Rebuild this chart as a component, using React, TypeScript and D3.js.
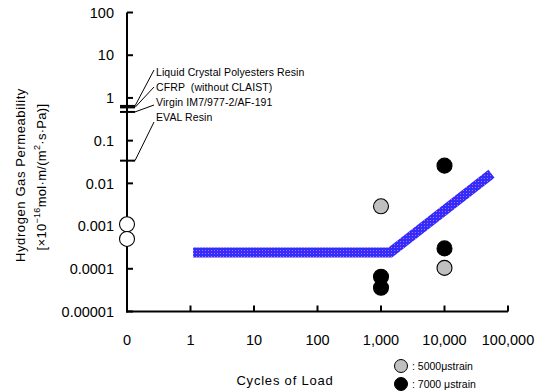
import { useEffect, useRef } from 'react';
import * as d3 from 'd3';

// reference materials on the y axis (cycles = 0)
const materialNames = [
  'Liquid Crystal Polyesters Resin',
  'CFRP  (without CLAIST)',
  'Virgin IM7/977-2/AF-191',
  'EVAL Resin',
];
const materialValues = [0.65, 0.6, 0.47, 0.034];

const baselineCycles = [0, 0];
const baselineValues = [0.0011, 0.0005];

const strain5000Cycles = [1000, 10000];
const strain5000Values = [0.0029, 0.000105];

const strain7000Cycles = [1000, 1000, 10000, 10000];
const strain7000Values = [0.000065, 0.000036, 0.026, 0.0003];

const trendCycles = [1.1, 1400, 55000];
const trendValues = [0.00024, 0.00024, 0.0168];

const xTicks = [0, 1, 10, 100, 1000, 10000, 100000];
const xTickLabels = ['0', '1', '10', '100', '1,000', '10,000', '100,000'];
const yTicks = [100, 10, 1, 0.1, 0.01, 0.001, 0.0001, 0.00001];
const yTickLabels = ['100', '10', '1', '0.1', '0.01', '0.001', '0.0001', '0.00001'];

const FONT = '"Liberation Sans", Arial, sans-serif';

export default function App() {
  const svgRef = useRef<SVGSVGElement>(null);

  useEffect(() => {
    const width = 541;
    const height = 392;
    const svg = d3.select(svgRef.current);
    svg.selectAll('*').remove();
    svg.attr('width', width).attr('height', height);

    const x0 = d3.scaleLog().domain([0.1, 100000]).range([127, 508]);
    const x = (v: number) => x0(v === 0 ? 0.1 : v);
    const y = d3.scaleLog().domain([0.00001, 100]).range([311.5, 12.5]);

    // band pattern
    const defs = svg.append('defs');
    const pat = defs.append('pattern')
      .attr('id', 'band')
      .attr('patternUnits', 'userSpaceOnUse')
      .attr('width', 3)
      .attr('height', 3);
    pat.append('rect').attr('width', 3).attr('height', 3).attr('fill', '#2e2eff');
    pat.append('rect').attr('x', 1).attr('y', 1).attr('width', 1).attr('height', 1).attr('fill', '#d860d0');

    // trend band
    const line = d3.line<number>()
      .x((_, i) => x(trendCycles[i]))
      .y(d => y(d));
    svg.append('path')
      .attr('d', line(trendValues))
      .attr('fill', 'none')
      .attr('stroke', 'url(#band)')
      .attr('stroke-width', 10)
      .attr('stroke-linejoin', 'miter');

    // axes
    const ax = svg.append('g').attr('stroke', '#000').attr('stroke-width', 2);
    ax.append('line')
      .attr('x1', x(0)).attr('x2', x(0))
      .attr('y1', y(100)).attr('y2', y(0.00001) + 1);
    ax.append('line')
      .attr('x1', x(0) - 1).attr('x2', x(100000))
      .attr('y1', y(0.00001)).attr('y2', y(0.00001));
    ax.selectAll('line.yt')
      .data(yTicks)
      .join('line')
      .attr('class', 'yt')
      .attr('x1', x(0)).attr('x2', x(0) + 6)
      .attr('y1', d => y(d)).attr('y2', d => y(d));
    ax.selectAll('line.xt')
      .data(xTicks.slice(1))
      .join('line')
      .attr('class', 'xt')
      .attr('x1', d => x(d)).attr('x2', d => x(d))
      .attr('y1', y(0.00001)).attr('y2', y(0.00001) - 6);

    svg.selectAll('text.ytl')
      .data(yTicks)
      .join('text')
      .attr('class', 'ytl')
      .attr('x', 114)
      .attr('y', d => y(d))
      .attr('dy', '0.36em')
      .attr('text-anchor', 'end')
      .attr('font-family', FONT)
      .attr('font-size', 14.5)
      .text((_, i) => yTickLabels[i]);

    svg.selectAll('text.xtl')
      .data(xTicks)
      .join('text')
      .attr('class', 'xtl')
      .attr('x', d => x(d))
      .attr('y', 345)
      .attr('text-anchor', 'middle')
      .attr('font-family', FONT)
      .attr('font-size', 14.5)
      .text((_, i) => xTickLabels[i]);

    // material markers + leaders
    const labelX = 156;
    const labelY = (i: number) => 72 + i * 15;
    const leaderOff = [-2, 0, 3, 5];
    svg.selectAll('line.mk')
      .data(materialValues)
      .join('line')
      .attr('class', 'mk')
      .attr('x1', x(0) - 7).attr('x2', x(0) + 8)
      .attr('y1', d => y(d)).attr('y2', d => y(d))
      .attr('stroke', '#000')
      .attr('stroke-width', 2);
    svg.selectAll('line.ld')
      .data(materialValues)
      .join('line')
      .attr('class', 'ld')
      .attr('x1', x(0) + 8).attr('x2', labelX - 2)
      .attr('y1', d => y(d)).attr('y2', (_, i) => labelY(i) + leaderOff[i])
      .attr('stroke', '#000')
      .attr('stroke-width', 1);
    svg.selectAll('text.ml')
      .data(materialNames)
      .join('text')
      .attr('class', 'ml')
      .attr('x', labelX)
      .attr('y', (_, i) => labelY(i))
      .attr('dy', '0.35em')
      .attr('font-family', FONT)
      .attr('font-size', 10.5)
      .attr('letter-spacing', 0.1)
      .style('white-space', 'pre')
      .text(d => d);

    // points
    const drawPts = (cx: number[], vals: number[], fill: string) => {
      svg.append('g').selectAll('circle')
        .data(vals)
        .join('circle')
        .attr('cx', (_, i) => x(cx[i]))
        .attr('cy', d => y(d))
        .attr('r', 7.5)
        .attr('fill', fill)
        .attr('stroke', '#000')
        .attr('stroke-width', 1.1);
    };
    drawPts(baselineCycles, baselineValues, '#fff');
    drawPts(strain5000Cycles, strain5000Values, '#c0c0c0');
    drawPts(strain7000Cycles, strain7000Values, '#000');

    // axis titles
    svg.append('text')
      .attr('transform', 'translate(25,175) rotate(-90)')
      .attr('text-anchor', 'middle')
      .attr('font-family', FONT)
      .attr('font-size', 13)
      .attr('letter-spacing', 0.6)
      .text('Hydrogen Gas Permeability');
    const t2 = svg.append('text')
      .attr('transform', 'translate(46,177) rotate(-90)')
      .attr('text-anchor', 'middle')
      .attr('font-family', FONT)
      .attr('font-size', 13)
      .attr('letter-spacing', 0.3);
    t2.append('tspan').text('[×10');
    t2.append('tspan').attr('dy', -6).attr('font-size', 9).text('−16');
    t2.append('tspan').attr('dy', 6).text('mol·m/(m');
    t2.append('tspan').attr('dy', -6).attr('font-size', 9).text('2');
    t2.append('tspan').attr('dy', 6).text('·s·Pa)]');

    svg.append('text')
      .attr('x', 285)
      .attr('y', 385)
      .attr('text-anchor', 'middle')
      .attr('font-family', FONT)
      .attr('font-size', 13)
      .attr('letter-spacing', 0.8)
      .text('Cycles of Load');

    // legend
    const legend = [
      { fill: '#c0c0c0', label: ': 5000μstrain', cy: 366 },
      { fill: '#000', label: ': 7000 μstrain', cy: 384 },
    ];
    const lg = svg.append('g');
    lg.selectAll('circle')
      .data(legend)
      .join('circle')
      .attr('cx', 401)
      .attr('cy', d => d.cy)
      .attr('r', 6.5)
      .attr('fill', d => d.fill)
      .attr('stroke', '#000')
      .attr('stroke-width', 1);
    lg.selectAll('text')
      .data(legend)
      .join('text')
      .attr('x', 412)
      .attr('y', d => d.cy)
      .attr('dy', '0.35em')
      .attr('font-family', FONT)
      .attr('font-size', 10.5)
      .text(d => d.label);
  }, []);

  return <svg ref={svgRef} style={{ position: 'absolute', left: 0, top: 0 }} />;
}
